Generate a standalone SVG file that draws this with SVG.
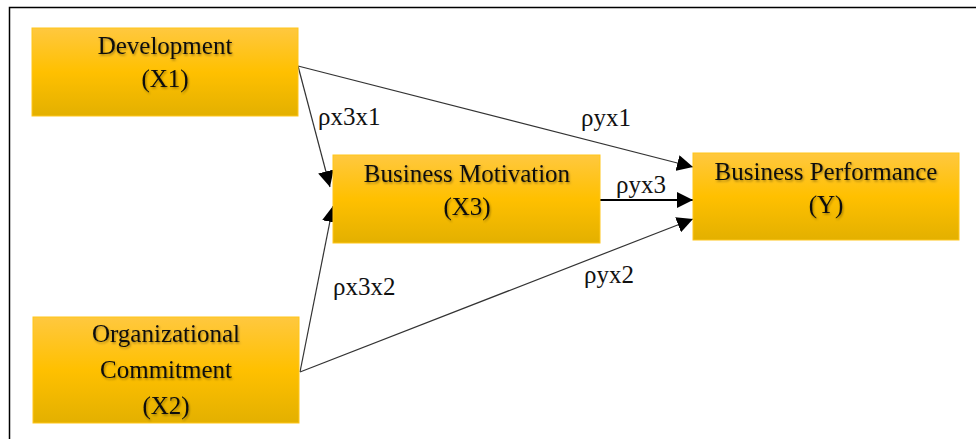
<svg xmlns="http://www.w3.org/2000/svg" width="976" height="439" viewBox="0 0 976 439">
  <defs>
    <linearGradient id="gold" x1="0" y1="0" x2="0" y2="1">
      <stop offset="0" stop-color="#FFC83F"/>
      <stop offset="0.5" stop-color="#FFC000"/>
      <stop offset="1" stop-color="#E3B000"/>
    </linearGradient>
    <filter id="txtShadow" x="-10%" y="-30%" width="120%" height="160%">
      <feDropShadow dx="1" dy="1.5" stdDeviation="1" flood-color="#000" flood-opacity="0.35"/>
    </filter>
    <marker id="arrow" viewBox="0 0 10 10" refX="10" refY="5" markerWidth="16" markerHeight="16" markerUnits="userSpaceOnUse" orient="auto">
      <path d="M0,0 L10,5 L0,10 z" fill="#000"/>
    </marker>
  </defs>
  <style>
    .box { fill: url(#gold); stroke: #FFC61A; stroke-width: 1; }
    .lbl { font-family: "Liberation Serif", "Times New Roman", serif; font-size: 25px; fill: #111; text-anchor: middle; filter: url(#txtShadow); }
    .coef { font-family: "Liberation Serif", "Times New Roman", serif; font-size: 25px; fill: #111; }
    .edge { fill: none; stroke: #333; stroke-width: 1.2; marker-end: url(#arrow); }
    .edge.bold { stroke: #000; stroke-width: 2.2; }
  </style>

  <rect width="976" height="439" fill="#fff"/>
  <!-- frame -->
  <path d="M9.5,439 V7.5 H976" fill="none" stroke="#000" stroke-width="1.5"/>

  <!-- connectors -->
  <g id="connectors">
    <line class="edge" x1="298" y1="66" x2="693" y2="167"/>
    <line class="edge" x1="298" y1="66" x2="330" y2="187"/>
    <line class="edge" x1="300" y1="372" x2="333" y2="206"/>
    <line class="edge" x1="300" y1="372" x2="693" y2="219"/>
    <line class="edge bold" x1="600" y1="200" x2="693" y2="200"/>
    <text class="coef" x="318" y="125">ρx3x1</text>
    <text class="coef" x="581" y="126">ρyx1</text>
    <text class="coef" x="616" y="193">ρyx3</text>
    <text class="coef" x="333" y="295">ρx3x2</text>
    <text class="coef" x="584" y="283">ρyx2</text>
  </g>

  <g id="node-x1">
    <rect class="box" x="32" y="28" width="266" height="88"/>
    <text class="lbl" x="165" y="54">Development</text>
    <text class="lbl" x="165" y="87">(X1)</text>
  </g>

  <g id="node-x3">
    <rect class="box" x="333" y="155" width="267" height="88"/>
    <text class="lbl" x="467" y="182">Business Motivation</text>
    <text class="lbl" x="467" y="215">(X3)</text>
  </g>

  <g id="node-y">
    <rect class="box" x="693" y="153" width="266" height="87"/>
    <text class="lbl" x="826" y="180">Business Performance</text>
    <text class="lbl" x="826" y="213">(Y)</text>
  </g>

  <g id="node-x2">
    <rect class="box" x="33" y="317" width="266" height="106"/>
    <text class="lbl" x="166" y="342">Organizational</text>
    <text class="lbl" x="166" y="378">Commitment</text>
    <text class="lbl" x="166" y="414">(X2)</text>
  </g>
</svg>
